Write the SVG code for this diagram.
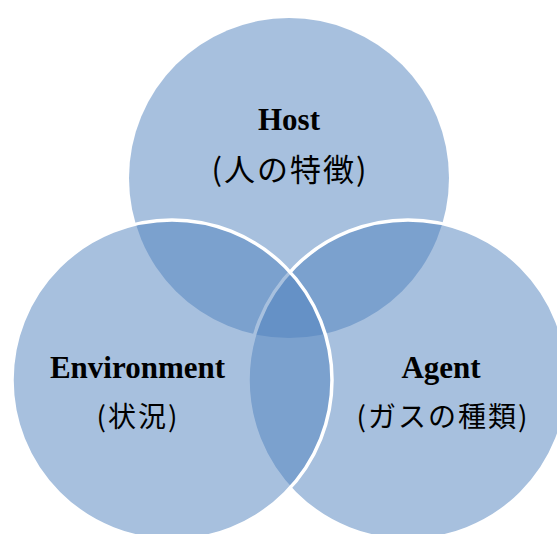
<svg xmlns="http://www.w3.org/2000/svg" width="557" height="534" viewBox="0 0 557 534">
  <style>
    .c { fill: #4F81BD; fill-opacity: 0.5; }
    .s { stroke: #FFFFFF; stroke-width: 3.5; }
    .t { font-family: "Liberation Serif", "Times New Roman", serif; font-weight: bold; font-size: 31px; fill: #000; text-anchor: middle; }
    .j { font-family: "Noto Sans CJK JP", "Noto Sans", sans-serif; font-size: 28px; fill: #000; text-anchor: middle; letter-spacing: 2px; }
  </style>
  <rect width="557" height="534" fill="#FFFFFF"/>
  <g id="host">
    <circle class="c" cx="289" cy="178" r="160"/>
  </g>
  <g id="agent">
    <circle class="c s" cx="408" cy="380" r="160"/>
  </g>
  <g id="environment">
    <circle class="c s" cx="172" cy="380" r="160"/>
  </g>
  <g id="connectors"/>
  <g id="labels">
    <text class="t" x="289" y="130">Host</text>
    <text class="j" x="290" y="181" style="font-size:31px">(人の特徴)</text>
    <text class="t" x="137.5" y="378">Environment</text>
    <text class="j" x="138" y="427">(状況)</text>
    <text class="t" x="441" y="378">Agent</text>
    <text class="j" x="443" y="427">(ガスの種類)</text>
  </g>
</svg>
